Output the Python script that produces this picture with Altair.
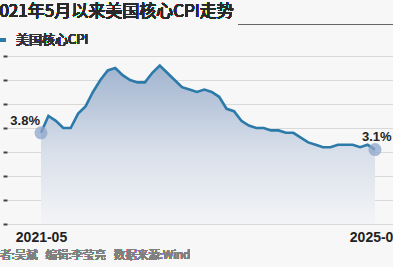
import altair as alt
import pandas as pd

months = ["2021-05","2021-06","2021-07","2021-08","2021-09","2021-10","2021-11","2021-12",
          "2022-01","2022-02","2022-03","2022-04","2022-05","2022-06","2022-07","2022-08",
          "2022-09","2022-10","2022-11","2022-12","2023-01","2023-02","2023-03","2023-04",
          "2023-05","2023-06","2023-07","2023-08","2023-09","2023-10","2023-11","2023-12",
          "2024-01","2024-02","2024-03","2024-04","2024-05","2024-06","2024-07","2024-08",
          "2024-09","2024-10","2024-11","2024-12","2025-01","2025-02"]
core_cpi = [3.8,4.5,4.3,4.0,4.0,4.6,4.9,5.5,
            6.0,6.4,6.5,6.2,6.0,5.9,5.9,6.3,
            6.6,6.3,6.0,5.7,5.6,5.5,5.6,5.5,
            5.3,4.8,4.7,4.3,4.1,4.0,4.0,3.9,
            3.9,3.8,3.8,3.6,3.4,3.3,3.2,3.2,
            3.3,3.3,3.3,3.2,3.3,3.1]
end_labels = ["3.8%", "3.1%"]
title_text = "2021年5月以来美国核心CPI走势"
legend_text = "美国核心CPI"
credit_text = "作者:吴斌\u00a0\u00a0\u00a0编辑:李莹亮\u00a0\u00a0\u00a0数据来源:Wind"

df = pd.DataFrame({"i": list(range(len(months))), "month": months, "v": core_cpi})
ends = df.iloc[[0, -1]].copy()
ends["lab"] = end_labels
ends["pos"] = ["first", "last"]

FONT = "Liberation Sans, Arial, Noto Sans CJK SC"
CJK = "Noto Sans CJK SC"
PADL = 7
W, H = 393 - PADL, 168
n = len(months) - 1
x0 = 41 - PADL
ppm = (375 - 41) / n
xdom = [-x0 / ppm, n + (W - x0 - (375 - 41)) / ppm]

x = alt.X("i:Q", scale=alt.Scale(domain=xdom, nice=False, zero=False),
          axis=alt.Axis(values=[0, n], labelExpr=f"datum.value == 0 ? '{months[0]}' : '{months[-1]}'",
                        grid=False, ticks=False, domain=False, labelFont=FONT,
                        labelFontWeight="bold", labelFontSize=14, labelColor="#222",
                        labelPadding=6, labelFlush=False, labelOverlap=False),
          title=None)
y = alt.Y("v:Q", scale=alt.Scale(domain=[0, 7], nice=False),
          axis=alt.Axis(values=[0, 1, 2, 3, 4, 5, 6, 7], tickCount=8, labels=False, domain=False,
                        ticks=True, tickSize=4, tickColor="#444", tickWidth=2, grid=True,
                        gridColor="#d9d9d9", gridWidth=1),
          title=None)

base = alt.Chart(df)
area = base.mark_area(
    color=alt.Gradient(gradient="linear", x1=0, y1=0, x2=0, y2=1,
                       stops=[alt.GradientStop(color="#a1b4cf", offset=0),
                              alt.GradientStop(color="#d9e0ea", offset=0.55),
                              alt.GradientStop(color="#f3f4f6", offset=1)])
).encode(x=x, y=y)
line = base.mark_line(color="#2b7aa9", strokeWidth=2.6).encode(x=x, y=y)
dots = alt.Chart(ends).mark_circle(size=170, color="#8ea6c9", opacity=0.75).encode(x=x, y=y)
lab_first = alt.Chart(ends).transform_filter("datum.pos == 'first'").mark_text(
    font=FONT, fontWeight="bold", fontSize=13, color="#222", align="right", dx=-1, dy=-12
).encode(x=x, y=y, text="lab:N")
lab_last = alt.Chart(ends).transform_filter("datum.pos == 'last'").mark_text(
    font=FONT, fontWeight="bold", fontSize=13, color="#222", align="left", dx=-13, dy=-13
).encode(x=x, y=y, text="lab:N")

title = alt.Chart(df).mark_text(font=CJK, fontSize=17, fontWeight="normal", color="#2a2a2a",
                                align="left", baseline="middle").encode(
    x=alt.value(-17), y=alt.value(-44), text=alt.value(title_text))
title_line = alt.Chart(df).mark_rule(color="#666", strokeWidth=1).encode(
    x=alt.value(231), x2=alt.value(400), y=alt.value(-31.5))
leg_line = alt.Chart(df).mark_rule(color="#2b7aa9", strokeWidth=3).encode(
    x=alt.value(-8), x2=alt.value(-1), y=alt.value(-16))
leg_text = alt.Chart(df).mark_text(font=CJK, fontSize=13, fontWeight="normal", color="#333",
                                   align="left", baseline="middle").encode(
    x=alt.value(9), y=alt.value(-16), text=alt.value(legend_text))
credit = alt.Chart(df).mark_text(font=CJK, fontSize=11.5, fontWeight="normal", color="#808080",
                                 align="left", baseline="middle").encode(
    x=alt.value(-18.5), y=alt.value(H + 32), text=alt.value(credit_text))

chart = alt.layer(area, line, dots, lab_first, lab_last, title, title_line, leg_line, leg_text, credit).properties(
    width=W, height=H, background="#f7f7f7",
    autosize=alt.AutoSizeParams(type="none"),
    padding={"left": PADL, "top": 56, "right": 0, "bottom": 267 - 56 - H},
).configure_view(strokeWidth=0)

chart.save("out.html", embed_options={"renderer": "svg", "actions": False})
